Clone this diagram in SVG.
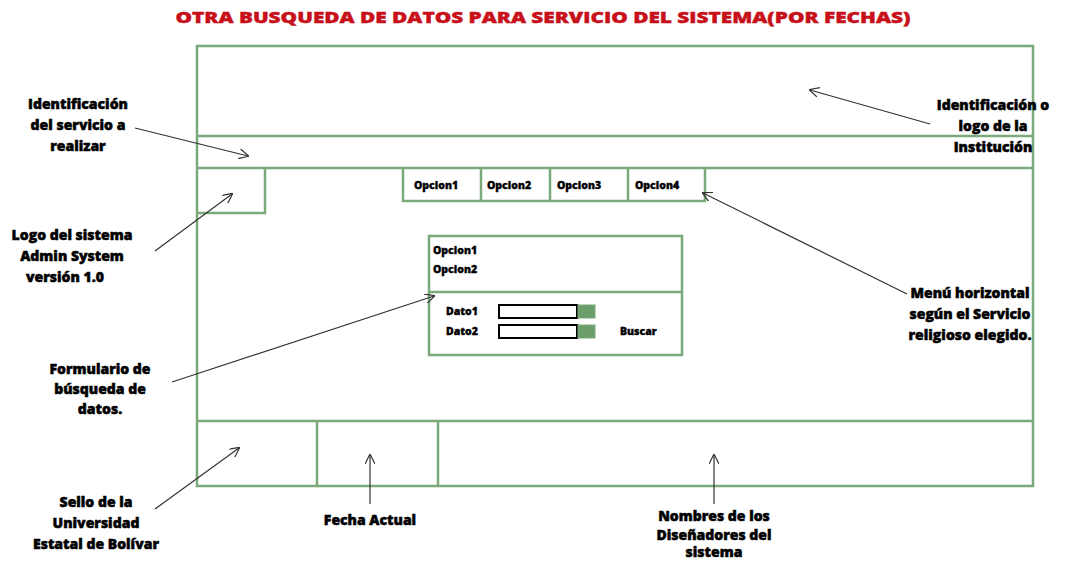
<svg xmlns="http://www.w3.org/2000/svg" width="1086" height="563" viewBox="0 0 1086 563">
<defs>
<style>
.box{fill:none;stroke:#7aa97a;stroke-width:2.5}
.lbl{font-family:"Open Sans","Liberation Sans",sans-serif;font-weight:800;font-size:14px;fill:#000;text-anchor:middle;stroke:#000;stroke-width:0.5}
.sm{font-family:"Open Sans","Liberation Sans",sans-serif;font-weight:800;font-size:10.5px;fill:#000;stroke:#000;stroke-width:0.35}
.ttl{font-family:"Open Sans","Liberation Sans",sans-serif;font-weight:800;font-size:15px;fill:#c8101a;text-anchor:middle;stroke:#c8101a;stroke-width:0.4}
.arr{stroke:#333;stroke-width:1.2;fill:none;marker-end:url(#ah)}
.inp{fill:#fff;stroke:#000;stroke-width:2}
.btn{fill:#6b9e6b;stroke:#7aa97a;stroke-width:1}
</style>
<marker id="ah" viewBox="0 0 10 10" refX="9" refY="5" markerWidth="10" markerHeight="10" markerUnits="userSpaceOnUse" orient="auto">
<path d="M0,0 L10,5 L0,10" fill="none" stroke="#333" stroke-width="1.2"/>
</marker>
</defs>
<rect width="1086" height="563" fill="#fff"/>
<text class="ttl" x="543" y="23" textLength="735" lengthAdjust="spacingAndGlyphs">OTRA  BUSQUEDA DE DATOS PARA  SERVICIO DEL SISTEMA(POR FECHAS)</text>

<g id="frame">
<rect class="box" x="197" y="46" width="836" height="440"/>
<line class="box" x1="197" y1="136" x2="1033" y2="136"/>
<line class="box" x1="197" y1="168" x2="1033" y2="168"/>
<line class="box" x1="197" y1="421" x2="1033" y2="421"/>
<line class="box" x1="317" y1="421" x2="317" y2="486"/>
<line class="box" x1="438" y1="421" x2="438" y2="486"/>
</g>
<g id="logo">
<polyline class="box" points="265,168 265,213 197,213"/>
</g>
<g id="menu">
<polyline class="box" points="403,168 403,201 705,201 705,168"/>
<line class="box" x1="481" y1="168" x2="481" y2="201"/>
<line class="box" x1="550" y1="168" x2="550" y2="201"/>
<line class="box" x1="628" y1="168" x2="628" y2="201"/>
<text class="sm" x="414" y="189">Opcion1</text>
<text class="sm" x="487" y="189">Opcion2</text>
<text class="sm" x="557" y="189">Opcion3</text>
<text class="sm" x="635" y="189">Opcion4</text>
</g>
<g id="form">
<rect class="box" x="429" y="236" width="253" height="119"/>
<line class="box" x1="429" y1="292" x2="682" y2="292"/>
<text class="sm" x="433" y="254">Opcion1</text>
<text class="sm" x="433" y="273">Opcion2</text>
<text class="sm" x="446" y="315">Dato1</text>
<text class="sm" x="446" y="335">Dato2</text>
<rect class="inp" x="499" y="305" width="78" height="13"/>
<rect class="btn" x="578" y="305" width="17" height="13"/>
<rect class="inp" x="499" y="325" width="78" height="13"/>
<rect class="btn" x="578" y="325" width="17" height="13"/>
<text class="sm" x="620" y="335">Buscar</text>
</g>

<g id="connectors">
<line class="arr" x1="135" y1="128" x2="248" y2="156"/>
<line class="arr" x1="155" y1="251" x2="232" y2="194"/>
<line class="arr" x1="930" y1="124" x2="810" y2="90"/>
<line class="arr" x1="907" y1="294" x2="703" y2="193"/>
<line class="arr" x1="172" y1="382" x2="434" y2="296"/>
<line class="arr" x1="155" y1="509" x2="239" y2="448"/>
<line class="arr" x1="370" y1="504" x2="370" y2="455"/>
<line class="arr" x1="714" y1="504" x2="714" y2="455"/>
</g>

<g id="labels">
<text class="lbl" x="78" y="109">Identificación</text>
<text class="lbl" x="78" y="130">del servicio a</text>
<text class="lbl" x="78" y="151">realizar</text>
<text class="lbl" x="72" y="240">Logo del sistema</text>
<text class="lbl" x="72" y="261">Admin System</text>
<text class="lbl" x="65" y="282">versión 1.0</text>
<text class="lbl" x="993" y="110">Identificación o</text>
<text class="lbl" x="993" y="131">logo de la</text>
<text class="lbl" x="993" y="152">Institución</text>
<text class="lbl" x="970" y="298">Menú horizontal</text>
<text class="lbl" x="970" y="319">según el  Servicio</text>
<text class="lbl" x="970" y="340">religioso elegido.</text>
<text class="lbl" x="100" y="374">Formulario de</text>
<text class="lbl" x="100" y="394">búsqueda de</text>
<text class="lbl" x="100" y="414">datos.</text>
<text class="lbl" x="96" y="507">Sello de la</text>
<text class="lbl" x="96" y="528">Universidad</text>
<text class="lbl" x="96" y="549">Estatal de Bolívar</text>
<text class="lbl" x="370" y="525">Fecha Actual</text>
<text class="lbl" x="714" y="521">Nombres de los</text>
<text class="lbl" x="714" y="540">Diseñadores del</text>
<text class="lbl" x="714" y="557">sistema</text>
</g>
</svg>
